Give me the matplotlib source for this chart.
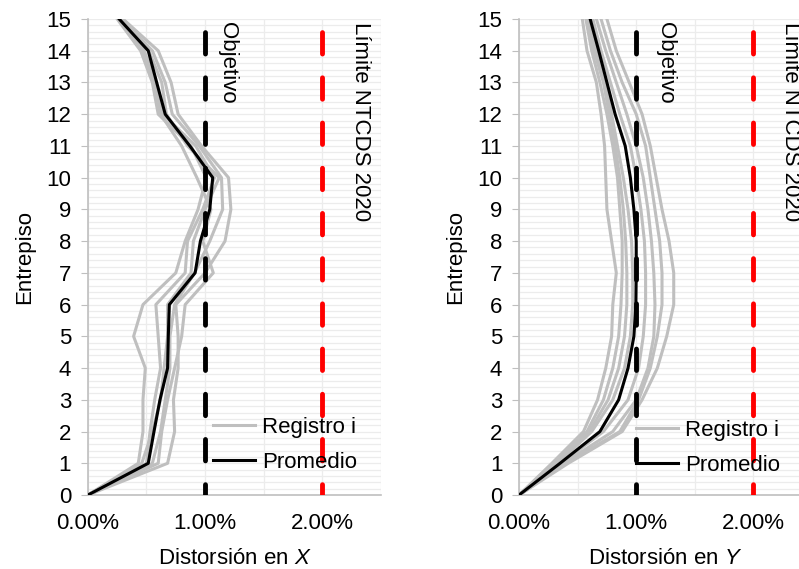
import numpy as np
import matplotlib.pyplot as plt
from matplotlib.ticker import MultipleLocator

plt.rcParams['font.family'] = ['Liberation Sans', 'DejaVu Sans']
plt.rcParams['mathtext.fontset'] = 'custom'
plt.rcParams['mathtext.rm'] = 'Liberation Sans'
plt.rcParams['mathtext.it'] = 'Liberation Sans:italic'

# Entrepiso (story) levels
stories = np.arange(0, 16)

# Drift in X (%), individual records
x_rec1 = [0, 0.43, 0.47, 0.47, 0.49, 0.39, 0.47, 0.75, 0.83, 0.94, 1.01, 0.88, 0.60, 0.55, 0.45, 0.25]
x_rec2 = [0, 0.50, 0.53, 0.57, 0.62, 0.60, 0.58, 0.83, 0.85, 0.98, 1.08, 0.92, 0.64, 0.58, 0.48, 0.27]
x_rec3 = [0, 0.55, 0.62, 0.66, 0.70, 0.70, 0.74, 0.91, 1.04, 1.15, 1.14, 0.95, 0.72, 0.66, 0.55, 0.29]
x_rec4 = [0, 0.68, 0.74, 0.73, 0.77, 0.77, 0.75, 1.00, 1.17, 1.22, 1.20, 0.97, 0.77, 0.71, 0.60, 0.30]
x_rec5 = [0, 0.60, 0.63, 0.68, 0.74, 0.80, 0.83, 1.07, 0.98, 1.05, 0.93, 0.80, 0.62, 0.56, 0.46, 0.27]
x_rec6 = [0, 0.46, 0.55, 0.62, 0.65, 0.68, 0.68, 0.88, 0.90, 1.00, 1.12, 0.85, 0.67, 0.63, 0.52, 0.28]
x_mean = [0, 0.515, 0.564, 0.615, 0.68, 0.686, 0.695, 0.915, 0.96, 1.04, 1.065, 0.87, 0.66, 0.587, 0.515, 0.267]

# Drift in Y (%), individual records
y_rec1 = [0, 0.28, 0.55, 0.67, 0.74, 0.79, 0.80, 0.83, 0.79, 0.75, 0.74, 0.73, 0.70, 0.66, 0.58, 0.54]
y_rec2 = [0, 0.30, 0.58, 0.72, 0.80, 0.85, 0.87, 0.88, 0.88, 0.86, 0.84, 0.80, 0.75, 0.69, 0.62, 0.57]
y_rec3 = [0, 0.32, 0.60, 0.76, 0.85, 0.90, 0.92, 0.92, 0.91, 0.89, 0.86, 0.82, 0.77, 0.72, 0.64, 0.58]
y_rec4 = [0, 0.33, 0.62, 0.80, 0.90, 0.95, 0.97, 0.97, 0.96, 0.93, 0.89, 0.84, 0.79, 0.74, 0.66, 0.60]
y_rec5 = [0, 0.36, 0.72, 0.93, 1.02, 1.06, 1.08, 1.08, 1.07, 1.04, 1.00, 0.95, 0.86, 0.78, 0.70, 0.63]
y_rec6 = [0, 0.38, 0.80, 1.00, 1.10, 1.15, 1.16, 1.15, 1.13, 1.10, 1.06, 1.00, 0.92, 0.83, 0.74, 0.66]
y_rec7 = [0, 0.40, 0.86, 1.02, 1.12, 1.18, 1.22, 1.22, 1.20, 1.16, 1.12, 1.08, 1.00, 0.88, 0.78, 0.70]
y_rec8 = [0, 0.42, 0.88, 1.05, 1.18, 1.26, 1.32, 1.32, 1.28, 1.22, 1.17, 1.12, 1.05, 0.94, 0.83, 0.75]
y_mean = [0, 0.35, 0.69, 0.85, 0.93, 0.98, 0.997, 1.0, 1.0, 0.98, 0.95, 0.906, 0.82, 0.75, 0.68, 0.607]

objetivo = 1.0
limite = 2.0
x_ticks = [0, 1, 2]
x_tick_labels = ['0.00%', '1.00%', '2.00%']

fig = plt.figure(figsize=(7.99, 5.69), dpi=100)
ax1 = fig.add_axes([0.110, 0.130, 0.3667, 0.8366])
ax2 = fig.add_axes([0.6496, 0.130, 0.3667, 0.8366])

gray = '#bfbfbf'
dash = (6.6, (4.4, 4.9))


def draw_panel(ax, recs, mean, xlabel, txt_obj_x, txt_lim_x, leg_x, leg_y):
    for i, r in enumerate(recs):
        ax.plot(r, stories, color=gray, lw=2.2, zorder=2,
                label='Registro i' if i == 0 else None)
    ax.plot(mean, stories, color='black', lw=2.2, zorder=3, label='Promedio')

    ax.plot([objetivo, objetivo], [15, 0], color='black', lw=3.5,
            linestyle=dash, dash_capstyle='round', zorder=4)
    ax.plot([limite, limite], [15, 0], color='red', lw=3.5,
            linestyle=dash, dash_capstyle='round', zorder=4)

    ax.text(txt_obj_x, 14.92, 'Objetivo', rotation=-90, ha='center', va='top',
            fontsize=16)
    ax.text(txt_lim_x, 14.92, 'Límite NTCDS 2020', rotation=-90, ha='center',
            va='top', fontsize=16, clip_on=False)

    ax.set_xlim(0, 2.5)
    ax.set_ylim(0, 15)
    ax.set_xticks(x_ticks)
    ax.set_xticklabels(x_tick_labels)
    ax.xaxis.set_minor_locator(MultipleLocator(0.5))
    ax.set_yticks(np.arange(0, 16, 1))
    ax.yaxis.set_minor_locator(MultipleLocator(0.2))
    ax.grid(True, which='both', color='#ececec', lw=0.9, zorder=0)
    ax.set_axisbelow(True)

    for s in ['top', 'right']:
        ax.spines[s].set_visible(False)
    for s in ['left', 'bottom']:
        ax.spines[s].set_color('#bfbfbf')
        ax.spines[s].set_linewidth(1.2)
    ax.tick_params(axis='x', which='both', length=0, labelsize=16, pad=13)
    ax.tick_params(axis='y', which='major', length=5, color='#bfbfbf',
                   labelsize=16, pad=7)
    ax.tick_params(axis='y', which='minor', length=0)

    ax.set_xlabel(xlabel, fontsize=16, labelpad=10)
    ax.set_ylabel('Entrepiso', fontsize=16, labelpad=8)

    ax.legend(loc='center left', bbox_to_anchor=(leg_x, leg_y), frameon=False,
              fontsize=16, handlelength=1.9, handletextpad=0.3,
              borderpad=0, borderaxespad=0, labelspacing=0.62)


draw_panel(ax1, [x_rec1, x_rec2, x_rec3, x_rec4, x_rec5, x_rec6], x_mean,
           'Distorsión en $\\mathit{X}$', 1.19, 2.33, 0.427, 0.105)
draw_panel(ax2, [y_rec1, y_rec2, y_rec3, y_rec4, y_rec5, y_rec6, y_rec7, y_rec8],
           y_mean, 'Distorsión en $\\mathit{Y}$', 1.25, 2.32, 0.40, 0.099)

fig.savefig('out.png', dpi=100)
